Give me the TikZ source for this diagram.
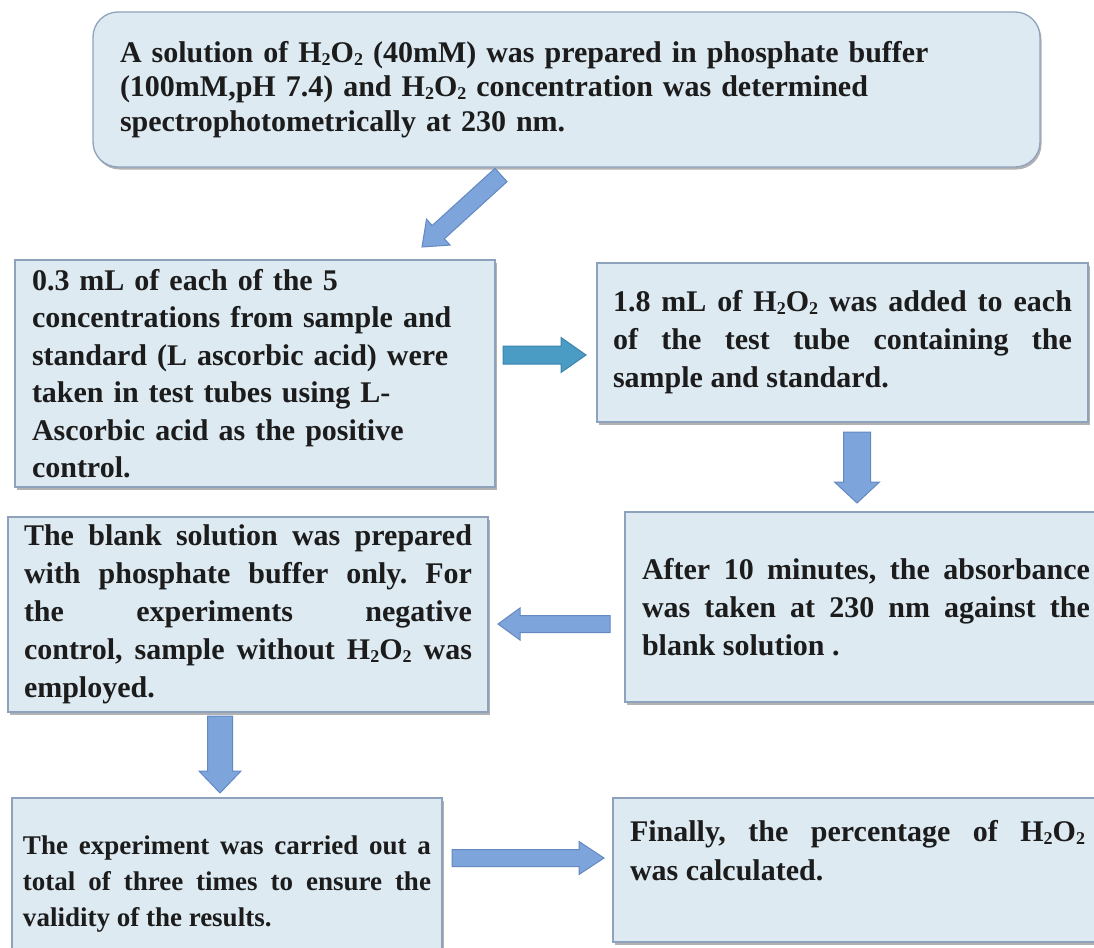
\documentclass[tikz,border=0pt]{standalone}
\usepackage{fontspec}
\setmainfont{Liberation Serif}
\usetikzlibrary{calc,shadows}
\definecolor{boxfill}{HTML}{DDEAF2}
\definecolor{boxline}{HTML}{8EA2BC}
\definecolor{arrfill}{HTML}{7EA5DB}
\definecolor{arrline}{HTML}{6388C2}
\definecolor{tealfill}{HTML}{4B9CC5}
\definecolor{tealline}{HTML}{3B84AC}
\definecolor{txt}{HTML}{1C1C1C}
\frenchspacing
\tikzset{
  barrow/.style n args={3}{
    to path={
      let \p1=(\tikztostart), \p2=(\tikztotarget),
          \n1={atan2(\y2-\y1,\x2-\x1)},
          \n2={veclen(\x2-\x1,\y2-\y1)-#3}
      in ($(\p1)+(\n1+90:#1)$)
      -- ($(\p1)+(\n1:{\n2*1pt})+(\n1+90:#1)$)
      -- ($(\p1)+(\n1:{\n2*1pt})+(\n1+90:#2)$)
      -- (\p2)
      -- ($(\p1)+(\n1:{\n2*1pt})+(\n1-90:#2)$)
      -- ($(\p1)+(\n1:{\n2*1pt})+(\n1-90:#1)$)
      -- ($(\p1)+(\n1-90:#1)$)
      -- cycle
    }
  },
  bluearrow/.style={fill=arrfill, draw=arrline, line width=1pt, line join=miter},
  tealarrow/.style={fill=tealfill, draw=tealline, line width=1pt, line join=miter},
  box/.style={draw=boxline, fill=boxfill, line width=1.3pt, anchor=north west,
    outer sep=0pt, inner ysep=0pt, text=txt,
    drop shadow={shadow xshift=1.5pt, shadow yshift=-2.5pt, fill=black, opacity=0.3}},
  bodyfont/.style={font=\fontsize{30}{38}\selectfont\bfseries}
}
\newcommand{\subtwo}{\raisebox{-0.09em}{\fontsize{0.6em}{0.6em}\selectfont 2}}
\newcommand{\hto}{H\subtwo O\subtwo}
\begin{document}
\begin{tikzpicture}[x=1pt,y=-1pt]
\useasboundingbox (0,0) rectangle (1094,947);
\fill[white] (0,0) rectangle (1094,947);
\clip (0,0) rectangle (1094,947);

\node[box, rounded corners=25pt, text width=893pt, inner xsep=27pt, minimum height=155pt,
  align=left, font=\fontsize{30}{34.5}\selectfont\bfseries] (b1) at (93,12)
  {A solution of \hto{} (40mM) was prepared in phosphate buffer\\(100mM,pH 7.4) and \hto{} concentration was determined\\spectrophotometrically at 230 nm.};

\node[box, text width=446pt, inner xsep=17pt, minimum height=227pt, align=left,
  font=\fontsize{30}{37.5}\selectfont\bfseries] (b2) at (15,260)
  {0.3 mL of each of the 5\\concentrations from sample and\\standard (L ascorbic acid) were\\taken in test tubes using L-\\Ascorbic acid as the positive\\control.};

\node[box, bodyfont, text width=459pt, inner xsep=16pt, minimum height=159pt, align=justify] (b3) at (597,263)
  {1.8 mL of \hto{} was added to each\linebreak of the test tube containing the\linebreak sample and standard.};

\node[box, bodyfont, text width=448pt, inner xsep=17pt, minimum height=190pt, align=justify] (b4) at (625,512)
  {After 10 minutes, the absorbance\linebreak was taken at 230 nm against the\linebreak blank solution .};

\node[box, bodyfont, text width=448pt, inner xsep=16pt, minimum height=195pt, align=justify] (b5) at (8,517)
  {The blank solution was prepared\linebreak with phosphate buffer only. For\linebreak the experiments negative\linebreak control, sample without \hto{} was\linebreak employed.};

\node[box, text width=408pt, inner xsep=11pt, minimum height=173pt, align=justify,
  font=\fontsize{27}{36}\selectfont\bfseries] (b6) at (12,798)
  {The experiment was carried out a\linebreak total of three times to ensure the\linebreak validity of the results.};

\node[box, text width=455pt, inner xsep=17pt, minimum height=144pt, align=justify,
  font=\fontsize{30}{39}\selectfont\bfseries] (b7) at (613,798)
  {Finally, the percentage of \hto\linebreak was calculated.\par\mbox{}};

% arrow end points
\coordinate (a1s) at (501,175);
\coordinate (a1e) at (422,247);
\coordinate (a2s) at (503,355);
\coordinate (a2e) at (586,355);
\coordinate (a3s) at (857,432);
\coordinate (a3e) at (857,503);
\coordinate (a4s) at (610,624);
\coordinate (a4e) at (498,624);
\coordinate (a5s) at (220,716);
\coordinate (a5e) at (220,793);
\coordinate (a6s) at (452,858);
\coordinate (a6e) at (604,858);

\draw[bluearrow, barrow={9pt}{17.5pt}{22pt}] (a1s) to (a1e);
\draw[tealarrow, barrow={9pt}{17.5pt}{25pt}] (a2s) to (a2e);
\draw[bluearrow, barrow={13.5pt}{22.5pt}{21pt}] (a3s) to (a3e);
\draw[bluearrow, barrow={8.5pt}{16pt}{22pt}] (a4s) to (a4e);
\draw[bluearrow, barrow={12.5pt}{21pt}{22pt}] (a5s) to (a5e);
\draw[bluearrow, barrow={8.5pt}{16.5pt}{25pt}] (a6s) to (a6e);
\end{tikzpicture}
\end{document}
